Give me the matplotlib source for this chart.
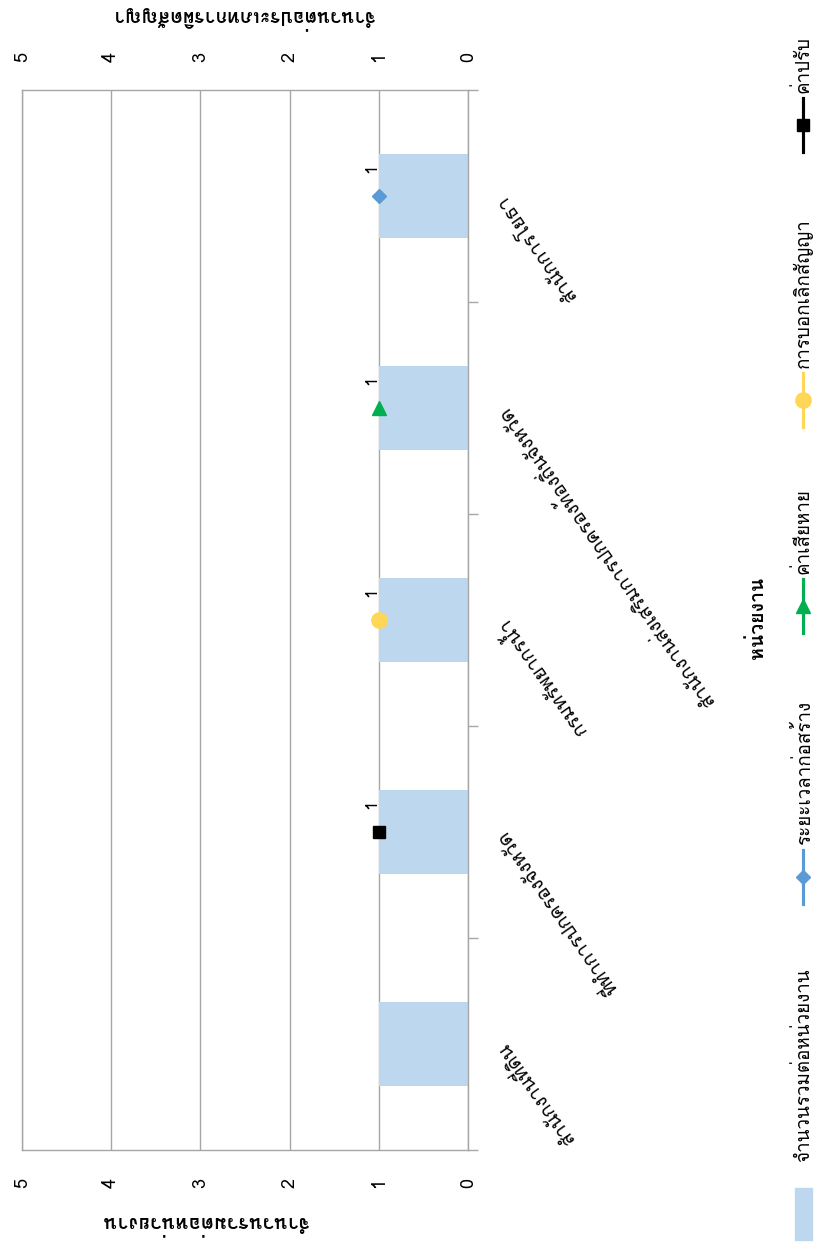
import numpy as np
import matplotlib
matplotlib.use("Agg")
import matplotlib.pyplot as plt
from matplotlib import font_manager
from matplotlib.ft2font import FT2Font
from matplotlib.lines import Line2D
from matplotlib.patches import Rectangle


def thai_family():
    """First installed family that has Thai glyphs."""
    for f in font_manager.fontManager.ttflist:
        try:
            if 0x0E01 in FT2Font(f.fname).get_charmap():
                return f.name
        except Exception:
            continue
    return "DejaVu Sans"


plt.rcParams["font.family"] = [thai_family(), "DejaVu Sans"]

# ── data ─────────────────────────────────────────────────────────────────────
units = ["สำนักงานที่ดิน",
         "ที่ทำการปกครองจังหวัด",
         "กรมทรัพยากรน้ำ",
         "สำนักงานส่งเสริมการปกครองท้องถิ่นจังหวัด",
         "สำนักการโยธา"]
total_per_unit = [1, 1, 1, 1, 1]
construction_period = [np.nan, np.nan, np.nan, np.nan, 1]
damages = [np.nan, np.nan, np.nan, 1, np.nan]
termination = [np.nan, np.nan, 1, np.nan, np.nan]
fines = [np.nan, 1, np.nan, np.nan, np.nan]
value_ticks = [0, 1, 2, 3, 4, 5]

bar_label = "จำนวนรวมต่อหน่วยงาน"
series = [
    ("ระยะเวลาก่อสร้าง", construction_period, "#5B9BD5", "D", 7),
    ("ค่าเสียหาย", damages, "#00B050", "^", 10),
    ("การบอกเลิกสัญญา", termination, "#FFD757", "o", 11),
    ("ค่าปรับ", fines, "#000000", "s", 9),
]

GRID = "#A6A6A6"
W, H = 816, 1247


def fx(x):
    return x / W


def fy(y):
    return 1 - y / H


fig = plt.figure(figsize=(W / 100, H / 100), dpi=100)
ax = fig.add_axes([fx(22), fy(1150), (468 - 22) / W, (1150 - 90) / H])

pos = np.arange(len(units))
ax.barh(pos, total_per_unit, height=0.4, color="#BDD7EE", zorder=2)

for name, vals, col, mk, ms in series:
    ax.plot(vals, pos, color=col, marker=mk, ms=ms, lw=2.25, zorder=3)
    for p, v in zip(pos, vals):
        if not np.isnan(v):
            ax.annotate(f"{v:g}", (v, p), xytext=(-5, 20), textcoords="offset points",
                        rotation=90, ha="center", va="center", fontsize=12)

ax.set_xlim(5, 0)
ax.set_ylim(-0.5, len(units) - 0.5)

# value axis: labels below and above the plot
ax.set_xticks(value_ticks)
ax.tick_params(axis="x", length=0, pad=20, labelsize=13, labelrotation=90,
               labeltop=True)
ax.grid(axis="x", color=GRID, lw=1, zorder=0)

# category axis on the right
ax.yaxis.tick_right()
ax.set_yticks(pos)
ax.set_yticklabels(units, rotation=125, rotation_mode="anchor", ha="right",
                   va="center", fontsize=14)
ax.set_yticks(np.arange(len(units) + 1) - 0.5, minor=True)
ax.tick_params(axis="y", which="major", length=0, pad=24)
ax.tick_params(axis="y", which="minor", length=7, color=GRID, width=1)
for s in ax.spines.values():
    s.set_color(GRID)
    s.set_linewidth(1)

# axis titles
fig.text(fx(205), fy(1222), "จำนวนรวมต่อหน่วยงาน", rotation=180, ha="center",
         va="center", fontsize=14.5, fontweight="bold")
fig.text(fx(243), fy(18), "จำนวนต่อประเภทการผิดสัญญา", rotation=180, ha="center",
         va="center", fontsize=14, fontweight="bold")
fig.text(fx(757), fy(618), "หน่วยงาน", rotation=90, ha="center", va="center",
         fontsize=14, fontweight="bold")

# legend, read from bottom to top
LX = 803
fig.add_artist(Rectangle((fx(795), fy(1240)), 17 / W, 52 / H,
                         transform=fig.transFigure, color="#BDD7EE"))
fig.text(fx(LX), fy(1162), bar_label, rotation=90, rotation_mode="anchor",
         ha="left", va="center", fontsize=13.5)
legend_y = [877, 606, 400, 125]
for (name, vals, col, mk, ms), cy in zip(series, legend_y):
    fig.add_artist(Line2D([fx(LX), fx(LX)], [fy(cy + 27), fy(cy - 27)],
                          transform=fig.transFigure, color=col, lw=2.25))
    fig.add_artist(Line2D([fx(LX)], [fy(cy)], transform=fig.transFigure,
                          color=col, marker=mk, ms=ms))
    fig.text(fx(LX), fy(cy - 32), name, rotation=90, rotation_mode="anchor",
             ha="left", va="center", fontsize=13.5)

fig.savefig("out.png", dpi=100)
